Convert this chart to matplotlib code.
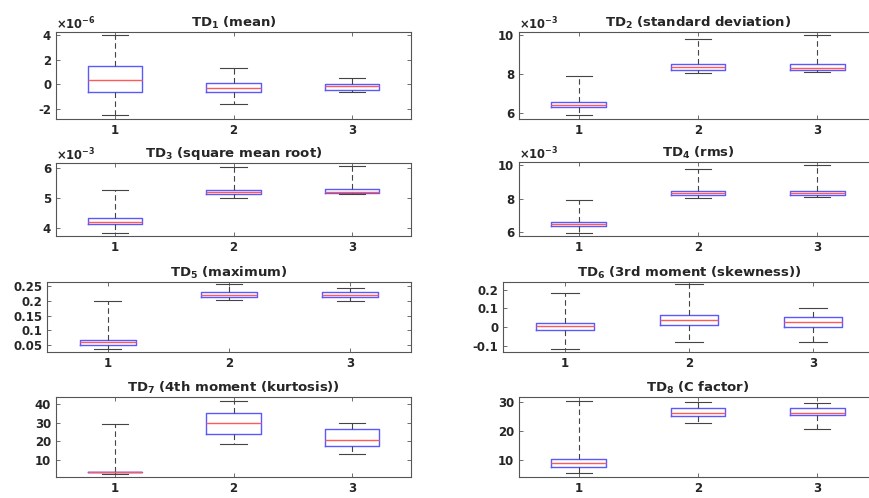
import matplotlib
matplotlib.use('Agg')
import matplotlib.pyplot as plt
from matplotlib.ticker import FuncFormatter, FixedLocator

plt.rcParams['font.family'] = 'DejaVu Sans'
plt.rcParams['font.weight'] = 'bold'
plt.rcParams['mathtext.default'] = 'bf'
plt.rcParams['axes.unicode_minus'] = False

groups = ['1', '2', '3']

# Box statistics per feature: lower whisker, Q1, median, Q3, upper whisker
td1_low = [-2.5e-6, -1.55e-6, -0.65e-6]
td1_q1 = [-0.65e-6, -0.65e-6, -0.44e-6]
td1_med = [0.35e-6, -0.28e-6, -0.16e-6]
td1_q3 = [1.52e-6, 0.08e-6, 0.05e-6]
td1_high = [4.0e-6, 1.33e-6, 0.54e-6]

td2_low = [5.88e-3, 8.07e-3, 8.10e-3]
td2_q1 = [6.32e-3, 8.20e-3, 8.19e-3]
td2_med = [6.44e-3, 8.36e-3, 8.29e-3]
td2_q3 = [6.59e-3, 8.49e-3, 8.49e-3]
td2_high = [7.91e-3, 9.80e-3, 10.0e-3]

td3_low = [3.81e-3, 4.99e-3, 5.13e-3]
td3_q1 = [4.11e-3, 5.12e-3, 5.16e-3]
td3_med = [4.20e-3, 5.18e-3, 5.21e-3]
td3_q3 = [4.31e-3, 5.27e-3, 5.31e-3]
td3_high = [5.25e-3, 6.03e-3, 6.07e-3]

td4_low = [5.90e-3, 8.06e-3, 8.10e-3]
td4_q1 = [6.33e-3, 8.20e-3, 8.20e-3]
td4_med = [6.45e-3, 8.34e-3, 8.32e-3]
td4_q3 = [6.59e-3, 8.46e-3, 8.46e-3]
td4_high = [7.90e-3, 9.80e-3, 10.0e-3]

td5_low = [0.035, 0.202, 0.201]
td5_q1 = [0.050, 0.212, 0.212]
td5_med = [0.058, 0.222, 0.219]
td5_q3 = [0.066, 0.232, 0.231]
td5_high = [0.200, 0.258, 0.243]

td6_low = [-0.116, -0.079, -0.079]
td6_q1 = [-0.014, 0.012, 0.000]
td6_med = [0.005, 0.038, 0.028]
td6_q3 = [0.024, 0.063, 0.053]
td6_high = [0.179, 0.229, 0.100]

td7_low = [3.0, 18.4, 13.5]
td7_q1 = [3.7, 23.8, 17.7]
td7_med = [3.9, 29.5, 20.7]
td7_q3 = [4.1, 35.2, 26.4]
td7_high = [29.3, 41.3, 29.5]

td8_low = [5.5, 22.7, 20.8]
td8_q1 = [7.7, 25.1, 25.4]
td8_med = [9.2, 26.1, 26.1]
td8_q3 = [10.3, 27.8, 27.8]
td8_high = [30.4, 29.9, 29.6]

titles = ['TD$_1$ (mean)', 'TD$_2$ (standard deviation)',
          'TD$_3$ (square mean root)', 'TD$_4$ (rms)',
          'TD$_5$ (maximum)', 'TD$_6$ (3rd moment (skewness))',
          'TD$_7$ (4th moment (kurtosis))', 'TD$_8$ (C factor)']

yticks = [[-2e-6, 0, 2e-6, 4e-6], [6e-3, 8e-3, 10e-3],
          [4e-3, 5e-3, 6e-3], [6e-3, 8e-3, 10e-3],
          [0.05, 0.1, 0.15, 0.2, 0.25], [-0.1, 0, 0.1, 0.2],
          [10, 20, 30, 40], [10, 20, 30]]
ylims = [(-2.8e-6, 4.25e-6), (5.7e-3, 10.15e-3), (3.72e-3, 6.17e-3),
         (5.74e-3, 10.2e-3), (0.025, 0.265), (-0.132, 0.24),
         (1.2, 43.5), (4.3, 31.7)]
exponents = [-6, -3, -3, -3, None, None, None, None]

panels = [
    (td1_low, td1_q1, td1_med, td1_q3, td1_high),
    (td2_low, td2_q1, td2_med, td2_q3, td2_high),
    (td3_low, td3_q1, td3_med, td3_q3, td3_high),
    (td4_low, td4_q1, td4_med, td4_q3, td4_high),
    (td5_low, td5_q1, td5_med, td5_q3, td5_high),
    (td6_low, td6_q1, td6_med, td6_q3, td6_high),
    (td7_low, td7_q1, td7_med, td7_q3, td7_high),
    (td8_low, td8_q1, td8_med, td8_q3, td8_high),
]

W, H = 869, 498
# axes frames in pixels: left, right, top, bottom
frames = [(56, 411, 32, 119), (519, 877, 32, 119),
          (56, 411, 163, 236), (519, 877, 162, 236),
          (47, 411, 282, 352), (503, 875, 282, 352),
          (56, 411, 397, 477), (519, 877, 397, 477)]

fig = plt.figure(figsize=(W / 100, H / 100), dpi=100)

edge = '#555555'
text_col = '#262626'

for i, (lo, q1, med, q3, hi) in enumerate(panels):
    l, r, t, b = frames[i]
    ax = fig.add_axes([l / W, 1 - b / H, (r - l) / W, (b - t) / H])
    stats = [dict(whislo=lo[k], q1=q1[k], med=med[k], q3=q3[k],
                  whishi=hi[k], fliers=[], label=groups[k])
             for k in range(len(groups))]
    ax.bxp(stats, positions=[1, 2, 3], widths=0.46, capwidths=0.22,
           showfliers=False,
           boxprops=dict(color=(0.35, 0.35, 1.0), linewidth=1.0),
           medianprops=dict(color=(1.0, 0.35, 0.35), linewidth=1.0),
           whiskerprops=dict(color='#444444', linewidth=0.8,
                             linestyle=(0, (5, 3))),
           capprops=dict(color='#444444', linewidth=0.8))
    ax.set_xlim(0.5, 3.5)
    ax.set_ylim(*ylims[i])
    ax.yaxis.set_major_locator(FixedLocator(yticks[i]))
    exp = exponents[i]
    if exp is not None:
        scale = 10.0 ** exp
        ax.yaxis.set_major_formatter(
            FuncFormatter(lambda v, p, s=scale: '%g' % round(v / s, 6)))
        ax.text(0.0, 1.0, r'$\times$10$^{%d}$' % exp, transform=ax.transAxes,
                ha='left', va='bottom', fontsize=8.3, color=text_col)
    else:
        ax.yaxis.set_major_formatter(
            FuncFormatter(lambda v, p: '%g' % round(v, 6)))
    ax.set_title(titles[i], fontsize=9.5, fontweight='bold', pad=4,
                 color=text_col)
    ax.tick_params(direction='in', length=3, width=0.6, top=True,
                   right=True, labelsize=8.5, pad=3.5, colors=edge,
                   labelcolor=text_col)
    for sp in ax.spines.values():
        sp.set_color(edge)
        sp.set_linewidth(0.8)

fig.savefig('out.png', dpi=100)
